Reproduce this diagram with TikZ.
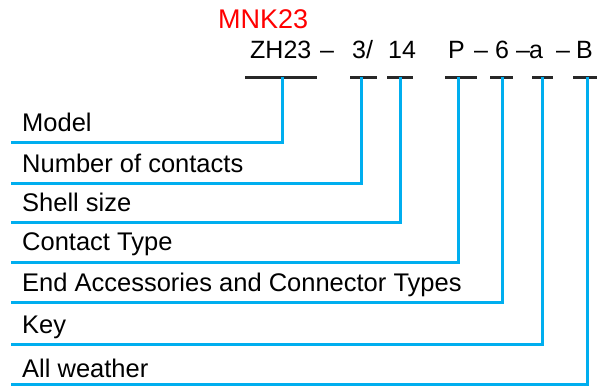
\documentclass[tikz,border=0pt]{standalone}
\usepackage{fontspec}
\setmainfont{Liberation Sans}
\usetikzlibrary{positioning}
\definecolor{leadblue}{RGB}{0, 174, 239}
\definecolor{codered}{RGB}{255, 0, 0}
\definecolor{bargray}{RGB}{40, 40, 40}

\tikzset{
  titletext/.style={anchor=base west, inner sep=0pt, color=codered, font=\fontsize{27}{32}\selectfont},
  codepart/.style={anchor=base west, inner sep=0pt, font=\fontsize{25}{30}\selectfont},
  fieldtext/.style={anchor=base west, inner sep=0pt, font=\fontsize{25.5}{30}\selectfont},
  bar/.style={color=bargray, line width=3pt},
  lead/.style={color=leadblue, line width=3pt},
}

\begin{document}
\begin{tikzpicture}[x=1pt, y=-1pt]
  \useasboundingbox (0,0) rectangle (603,388);
  % ordering code
  \node[titletext] (mnk)      at (218, 28) {MNK23};
  \node[codepart]  (zh)       at (250, 58) {ZH23};
  \node[codepart]  (dasha)    at (320, 58) {--};
  \node[codepart]  (three)    at (352, 58) {3/};
  \node[codepart]  (fourteen) at (388, 58) {14};
  \node[codepart]  (pp)       at (448, 58) {P};
  \node[codepart]  (dashb)    at (474, 58) {--};
  \node[codepart]  (six)      at (495, 58) {6};
  \node[codepart]  (dashc)    at (516, 58) {--};
  \node[codepart]  (aa)       at (529, 58) {a};
  \node[codepart]  (dashd)    at (556, 58) {--};
  \node[codepart]  (bb)       at (576, 58) {B};
  % bars under each part
  \draw[bar] (245, 77) -- (317, 77);
  \draw[bar] (350, 77) -- (377, 77);
  \draw[bar] (387, 77) -- (413, 77);
  \draw[bar] (445, 77) -- (477, 77);
  \draw[bar] (490, 77) -- (513, 77);
  \draw[bar] (532, 77) -- (553, 77);
  \draw[bar] (573, 77) -- (597, 77);
  \coordinate (zhbar)       at (282, 77);
  \coordinate (threebar)    at (361, 77);
  \coordinate (fourteenbar) at (400, 77);
  \coordinate (pbar)        at (458, 77);
  \coordinate (sixbar)      at (502, 77);
  \coordinate (abar)        at (542, 77);
  \coordinate (bbar)        at (587, 77);
  % field names
  \node[fieldtext] (model)    at (22, 131) {Model};
  \node[fieldtext] (contacts) at (22, 172) {Number of contacts};
  \node[fieldtext] (shell)    at (22, 211) {Shell size};
  \node[fieldtext] (ctype)    at (22, 250) {Contact Type};
  \node[fieldtext] (endacc)   at (22, 291) {End Accessories and Connector Types};
  \node[fieldtext] (key)      at (22, 333) {Key};
  \node[fieldtext] (weather)  at (22, 377) {All weather};
  \coordinate (modelend)    at (11, 142);
  \coordinate (contactsend) at (11, 183);
  \coordinate (shellend)    at (11, 222);
  \coordinate (ctypeend)    at (11, 262);
  \coordinate (endaccend)   at (11, 302);
  \coordinate (keyend)      at (11, 344);
  \coordinate (weatherend)  at (11, 384);
  % leads
  \draw[lead] (zhbar)       |- (modelend);
  \draw[lead] (threebar)    |- (contactsend);
  \draw[lead] (fourteenbar) |- (shellend);
  \draw[lead] (pbar)        |- (ctypeend);
  \draw[lead] (sixbar)      |- (endaccend);
  \draw[lead] (abar)        |- (keyend);
  \draw[lead] (bbar)        |- (weatherend);
\end{tikzpicture}
\end{document}
